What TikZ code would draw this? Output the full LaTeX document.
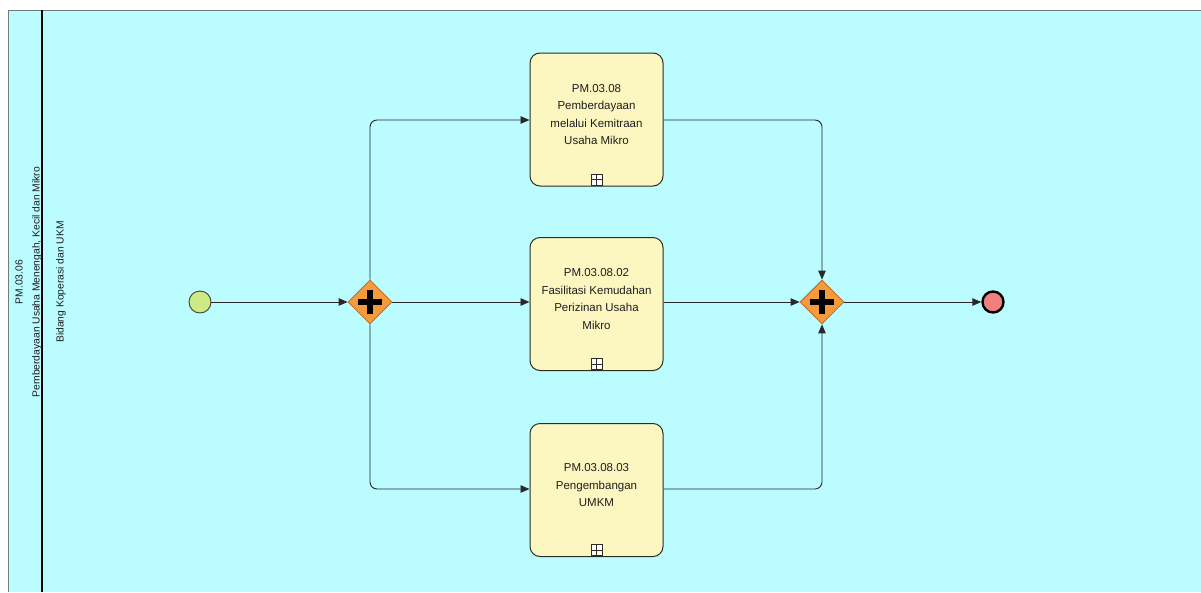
\documentclass[tikz,border=0pt]{standalone}
\usepackage{fontspec}
\setmainfont{Liberation Sans}
\usetikzlibrary{arrows.meta,shapes.geometric,calc}
\definecolor{bgc}{RGB}{186,252,255}
\definecolor{taskfill}{RGB}{252,247,192}
\definecolor{taskline}{RGB}{45,45,35}
\definecolor{gwfill}{RGB}{246,154,62}
\definecolor{gwline}{RGB}{185,105,30}
\definecolor{startfill}{RGB}{206,234,132}
\definecolor{endfill}{RGB}{240,128,128}
\definecolor{flowc}{RGB}{40,40,40}
\definecolor{txt}{RGB}{30,30,30}
\definecolor{poolc}{RGB}{110,125,125}
\newcommand{\tasktext}[1]{\fontsize{11.5}{17.5}\selectfont\raisebox{0pt}[\height][\dimexpr\depth+9pt\relax]{\begin{tabular}{@{}c@{}}#1\end{tabular}}}
\tikzset{
  taskbox/.style={draw=taskline, line width=1pt, fill=taskfill, rounded corners=10pt,
    minimum width=133pt, minimum height=133pt, inner sep=0pt, text=txt},
  gateway/.style={diamond, draw=gwline, line width=0.8pt, fill=gwfill,
    minimum width=44pt, minimum height=44pt, inner sep=0pt,
    path picture={\fill[black] ($(path picture bounding box.center)+(-12,-2.6)$) rectangle ($(path picture bounding box.center)+(12,2.6)$);
                  \fill[black] ($(path picture bounding box.center)+(-2.6,-12)$) rectangle ($(path picture bounding box.center)+(2.6,12)$);}},
  startev/.style={circle, draw=black!75, line width=0.9pt, fill=startfill, minimum size=22pt, inner sep=0pt},
  endev/.style={circle, draw=black, line width=2.4pt, fill=endfill, minimum size=21pt, inner sep=0pt},
  marker/.style={draw=taskline, line width=0.7pt, fill=white, minimum size=11pt, inner sep=0pt,
    path picture={\draw[taskline, line width=0.7pt] (path picture bounding box.north) -- (path picture bounding box.south)
                  (path picture bounding box.west) -- (path picture bounding box.east);}},
  flow/.style={draw=flowc, line width=0.9pt, rounded corners=7pt, -{Triangle[length=9pt,width=7.5pt]}},
  hdr/.style={text=txt, font=\fontsize{10.3}{17}\selectfont, inner sep=0pt},
}
\begin{document}
\begin{tikzpicture}[x=1pt,y=-1pt]
\useasboundingbox (0,0) rectangle (1201,592);
\fill[white] (0,0) rectangle (1201,592);
\fill[bgc] (8,10) rectangle (1201,592);
\draw[poolc, line width=1pt] (8,592) -- (8,10) -- (1201,10);
\draw[black, line width=1.3pt] (42,10) -- (42,592);

\node[hdr, rotate=90, align=center] (pool) at (28.5,282) {PM.03.06\\Pemberdayaan Usaha Menengah, Kecil dan Mikro};
\node[hdr, rotate=90] (lane) at (61,282) {Bidang Koperasi dan UKM};

\node[startev] (s) at (200,302) {};
\node[gateway] (g1) at (370,302) {};
\node[taskbox] (t1) at (596.5,119.5) {\tasktext{PM.03.08\\Pemberdayaan\\melalui Kemitraan\\Usaha Mikro}};
\node[taskbox] (t2) at (596.5,304) {\tasktext{PM.03.08.02\\Fasilitasi Kemudahan\\Perizinan Usaha\\Mikro}};
\node[taskbox] (t3) at (596.5,490) {\tasktext{PM.03.08.03\\Pengembangan\\UMKM}};
\node[marker] (m1) at ($(t1.south)+(0,-7)$) {};
\node[marker] (m2) at ($(t2.south)+(0,-7)$) {};
\node[marker] (m3) at ($(t3.south)+(0,-7)$) {};
\node[gateway] (g2) at (822,302) {};
\node[endev] (e) at (993,302) {};

\draw[flow] (s.east) -- (g1.west);
\draw[flow] (g1.north) |- ($(t1.west)+(0,0.5)$);
\draw[flow] (g1.east) -- (g1.east -| t2.west);
\draw[flow] (g1.south) |- ($(t3.west)+(0,-1)$);
\draw[flow] ($(t1.east)+(0,0.5)$) -| (g2.north);
\draw[flow] (g2.west -| t2.east) -- (g2.west);
\draw[flow] ($(t3.east)+(0,-1)$) -| (g2.south);
\draw[flow] (g2.east) -- (e.west);
\end{tikzpicture}
\end{document}
